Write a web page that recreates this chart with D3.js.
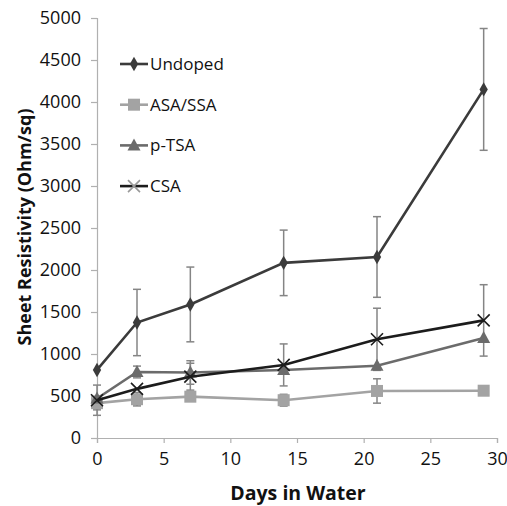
<!DOCTYPE html>
<html>
<head>
<meta charset="utf-8">
<script src="https://cdn.jsdelivr.net/npm/d3@7/dist/d3.min.js"></script>
<style>
  body { margin: 0; background: #fff; }
  svg { display: block; font-family: "Open Sans", sans-serif; }
</style>
</head>
<body>
<script>
var w = 507;
var h = 506;

// plot area in pixels
var margin = {top: 18, right: 10, bottom: 68, left: 97};
var width = 400;
var height = 420;

var days = [0, 3, 7, 14, 21, 29];
var undoped = [810, 1375, 1590, 2085, 2155, 4150];
var undopedErr = [0, 395, 445, 390, 480, 725];
var asa = [415, 462, 492, 450, 560, 563];
var asaErr = [80, 80, 0, 70, 145, 0];
var ptsa = [470, 786, 780, 810, 860, 1190];
var ptsaErr = [0, 70, 140, 0, 0, 0];
var csa = [450, 585, 730, 870, 1175, 1400];
var csaErr = [180, 0, 160, 250, 370, 425];

var xTicks = [0, 5, 10, 15, 20, 25, 30];
var yTicks = [0, 500, 1000, 1500, 2000, 2500, 3000, 3500, 4000, 4500, 5000];

var series = [
  {name: "Undoped", values: undoped, err: undopedErr, color: "#3b3b3b", marker: "diamond"},
  {name: "ASA/SSA", values: asa, err: asaErr, color: "#a3a3a3", marker: "square"},
  {name: "p-TSA", values: ptsa, err: ptsaErr, color: "#6b6b6b", marker: "triangle"},
  {name: "CSA", values: csa, err: csaErr, color: "#1c1c1c", marker: "cross"}
];

var x = d3.scaleLinear().domain([0, 30]).range([0, width]);
var y = d3.scaleLinear().domain([0, 5000]).range([height, 0]);

var svg = d3.select("body").append("svg")
  .attr("width", w)
  .attr("height", h);

var chart = svg.append("g")
  .attr("transform", "translate(" + margin.left + "," + margin.top + ")");

// axes
var xAxis = chart.append("g")
  .attr("transform", "translate(0," + height + ")")
  .call(d3.axisBottom(x).tickValues(xTicks).tickFormat(d3.format("d")).tickSize(5).tickPadding(9));
var yAxis = chart.append("g")
  .call(d3.axisLeft(y).tickValues(yTicks).tickFormat(d3.format("d")).tickSize(6).tickPadding(10));

[xAxis, yAxis].forEach(function(a) {
  a.select(".domain").attr("stroke", "#b0b0b0").attr("stroke-width", 1.2);
  a.selectAll(".tick line").attr("stroke", "#b0b0b0").attr("stroke-width", 1.2);
  a.selectAll(".tick text").attr("fill", "#111").style("font-size", "18px")
    .style("font-family", "'Open Sans', sans-serif");
});

// axis titles
svg.append("text")
  .attr("x", 298)
  .attr("y", 500)
  .attr("text-anchor", "middle")
  .style("font-size", "19.5px")
  .style("font-weight", "bold")
  .attr("fill", "#111")
  .text("Days in Water");

svg.append("text")
  .attr("transform", "translate(31,227) rotate(-90)")
  .attr("text-anchor", "middle")
  .style("font-size", "18px")
  .style("font-weight", "bold")
  .attr("fill", "#111")
  .text("Sheet Resistivity (Ohm/sq)");

// error bars
series.forEach(function(s) {
  var eb = chart.append("g").attr("stroke", "#858585").attr("stroke-width", 1.5).attr("fill", "none");
  days.forEach(function(d, i) {
    if (!s.err[i]) return;
    var cx = x(d), top = y(s.values[i] + s.err[i]), bot = y(s.values[i] - s.err[i]);
    eb.append("line").attr("x1", cx).attr("x2", cx).attr("y1", top).attr("y2", bot);
    eb.append("line").attr("x1", cx - 4).attr("x2", cx + 4).attr("y1", top).attr("y2", top);
    eb.append("line").attr("x1", cx - 4).attr("x2", cx + 4).attr("y1", bot).attr("y2", bot);
  });
});

var line = d3.line()
  .x(function(d) { return x(d[0]); })
  .y(function(d) { return y(d[1]); });

var drawMarker = function(g, type, cx, cy, color) {
  if (type === "diamond") {
    g.append("path").attr("d", d3.symbol(d3.symbolDiamond, 60)())
      .attr("transform", "translate(" + cx + "," + cy + ")").attr("fill", color);
  } else if (type === "square") {
    g.append("rect").attr("x", cx - 6).attr("y", cy - 6).attr("width", 12).attr("height", 12).attr("fill", color);
  } else if (type === "triangle") {
    g.append("path").attr("d", "M" + cx + "," + (cy - 7) + "L" + (cx + 6.5) + "," + (cy + 5) + "L" + (cx - 6.5) + "," + (cy + 5) + "Z")
      .attr("fill", color);
  } else {
    g.append("path").attr("d", "M" + (cx - 6) + "," + (cy - 6) + "L" + (cx + 6) + "," + (cy + 6) + "M" + (cx - 6) + "," + (cy + 6) + "L" + (cx + 6) + "," + (cy - 6))
      .attr("stroke", color).attr("stroke-width", 1.6);
  }
};

series.forEach(function(s) {
  var pts = days.map(function(d, i) { return [d, s.values[i]]; });
  chart.append("path")
    .datum(pts)
    .attr("d", line)
    .attr("fill", "none")
    .attr("stroke", s.color)
    .attr("stroke-width", 2.6);
  var mg = chart.append("g");
  pts.forEach(function(p) {
    drawMarker(mg, s.marker, x(p[0]), y(p[1]), s.color);
  });
});

// legend
var legend = svg.append("g");
series.forEach(function(s, i) {
  var ly = 64 + i * 40.7;
  var g = legend.append("g");
  g.append("line").attr("x1", 120).attr("x2", 148).attr("y1", ly).attr("y2", ly)
    .attr("stroke", s.color).attr("stroke-width", 2.6);
  drawMarker(g, s.marker, 134, ly, s.color === "#1c1c1c" ? "#999" : s.color);
  g.append("text").attr("x", 150).attr("y", ly + 6)
    .style("font-size", "17px").attr("fill", "#111").text(s.name);
});
</script>
</body>
</html>
